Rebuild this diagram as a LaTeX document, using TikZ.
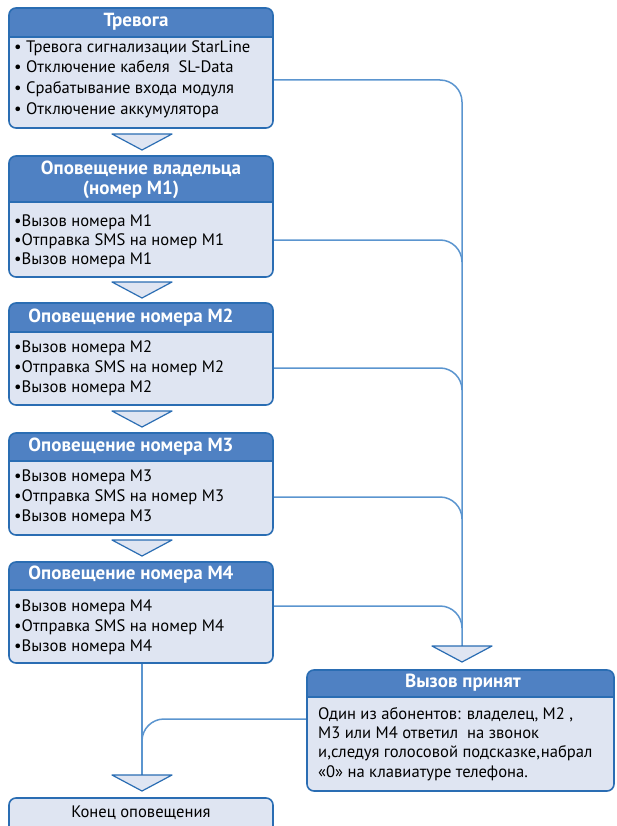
\documentclass[tikz,border=0pt]{standalone}
\usepackage{fontspec}
\setmainfont{PT Sans}
\definecolor{headfill}{HTML}{4F81C3}
\definecolor{bodyfill}{HTML}{DFE5F2}
\definecolor{edgeblue}{HTML}{2A6DB3}
\definecolor{connblue}{HTML}{5B95CF}
\tikzset{
  boxline/.style={draw=edgeblue, line width=1.6pt},
  hd/.style={text=white, font=\bfseries\fontsize{19}{20}\selectfont, align=center, inner sep=0pt},
  bd/.style={font=\fontsize{16.6}{20}\selectfont, align=left, anchor=west, inner sep=0pt},
  connline/.style={draw=connblue, line width=1.5pt, rounded corners=22pt},
  tri/.style={draw=edgeblue, fill=bodyfill, line width=1.2pt, line join=round},
}
\newcommand\panelbox[6]{% name, x1, x2, top, header bottom, bottom
  \fill[bodyfill, rounded corners=7pt] (#2,#4) rectangle (#3,#6);
  \fill[headfill] (#2,#5) [rounded corners=7pt]-- (#2,#4) -- (#3,#4) [sharp corners]-- (#3,#5) -- cycle;
  \draw[boxline, rounded corners=7pt] (#2,#4) rectangle (#3,#6);
  \draw[boxline] (#2,#5) -- (#3,#5);
}
\newcommand\downtri[3]{% name, cx, top
  \draw[tri] (#2-30,#3) -- (#2+30,#3) -- (#2,#3+16) -- cycle;
  \coordinate (#1) at (#2,#3);
}
\begin{document}
\begin{tikzpicture}[x=1pt,y=-1pt]
\useasboundingbox (0,0) rectangle (616,826);
\clip (0,0) rectangle (616,826);

% connectors (drawn first)
\coordinate (rv1) at (273,80);
\coordinate (rv2) at (273,240);
\coordinate (rv3) at (273,368);
\coordinate (rv4) at (273,497);
\coordinate (rv5) at (273,606);
\coordinate (j2) at (462,262);
\coordinate (j3) at (462,390);
\coordinate (j4) at (462,519);
\coordinate (j5) at (462,628);
\draw[connline] (rv1) -- (462,80) -- (462,646);
\draw[connline] (rv2) -| (j2);
\draw[connline] (rv3) -| (j3);
\draw[connline] (rv4) -| (j4);
\draw[connline] (rv5) -| (j5);
\coordinate (acc) at (306,719);
\coordinate (jl) at (142,742);
\draw[connline] (acc) -| (jl);
\coordinate (b5bot) at (142,663);
\draw[connline] (b5bot) -- (142,776);

% box 1
\panelbox{p1}{9}{273}{8}{37}{128}
\node[hd] (h1) at (136,22) {Тревога};
\node[bd, font=\fontsize{16.6}{20.7}\selectfont] (t1) at (14,79) {• Тревога сигнализации StarLine\\• Отключение кабеля\ \ SL-Data\\• Срабатывание входа модуля\\• Отключение аккумулятора};
\downtri{tr1}{142}{134}

% box 2
\panelbox{p2}{9}{273}{156}{202}{277}
\node[hd] (h2) at (141,180) {Оповещение владельца\\(номер M1)\hspace*{20pt}};
\node[bd, font=\fontsize{16.6}{19}\selectfont] (t2) at (14,241) {•Вызов номера M1\\•Отправка SMS на номер M1\\•Вызов номера M1};
\downtri{tr2}{142}{282}

% box 3
\panelbox{p3}{9}{273}{303}{332}{405}
\node[hd] (h3) at (131,318) {Оповещение номера M2};
\node[bd] (t3) at (14,368) {•Вызов номера M2\\•Отправка SMS на номер M2\\•Вызов номера M2};
\downtri{tr3}{142}{411}

% box 4
\panelbox{p4}{9}{273}{433}{461}{535}
\node[hd] (h4) at (131,447) {Оповещение номера M3};
\node[bd] (t4) at (14,497) {•Вызов номера M3\\•Отправка SMS на номер M3\\•Вызов номера M3};
\downtri{tr4}{142}{540}

% box 5
\panelbox{p5}{9}{273}{562}{590}{663}
\node[hd] (h5) at (131,575) {Оповещение номера M4};
\node[bd] (t5) at (14,627) {•Вызов номера M4\\•Отправка SMS на номер M4\\•Вызов номера M4};
\downtri{tr5}{142}{775}

% accepted box
\downtri{tr6}{462}{646}
\panelbox{p6}{307}{614}{670}{697}{791}
\node[hd] (h6) at (463,683) {Вызов принят};
\node[bd, font=\fontsize{16.6}{19.3}\selectfont] (t6) at (318,744) {Один из абонентов: владелец, M2 ,\\M3 или M4 ответил\ \ на звонок\\и,следуя голосовой подсказке,набрал\\«0» на клавиатуре телефона.};

% end box
\fill[bodyfill, rounded corners=7pt] (9,798) rectangle (273,840);
\draw[boxline, rounded corners=7pt] (9,798) rectangle (273,840);
\node[font=\fontsize{16.6}{18}\selectfont, inner sep=0pt] (endt) at (141,813) {Конец оповещения};
\end{tikzpicture}
\end{document}
